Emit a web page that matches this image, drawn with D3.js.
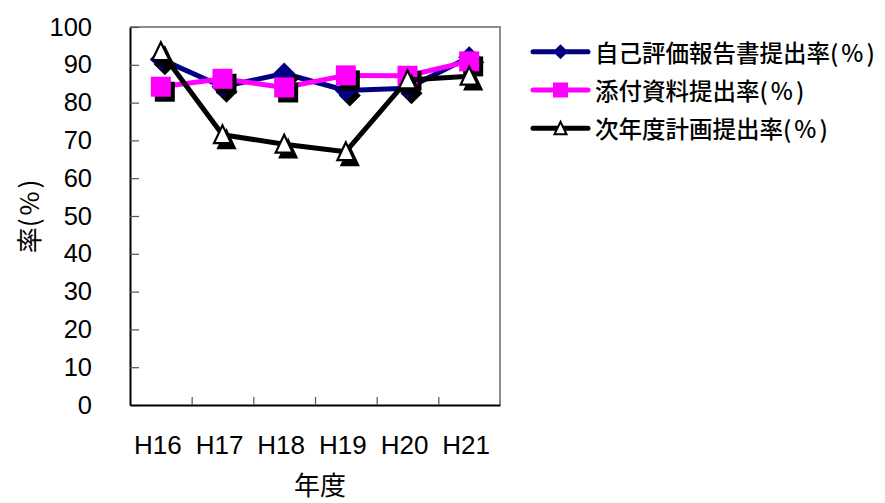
<!DOCTYPE html>
<html lang="ja">
<head>
<meta charset="utf-8">
<script src="https://cdn.jsdelivr.net/npm/d3@7"></script>
<style>
  html, body { margin: 0; padding: 0; background: #fff; }
  svg { display: block; }
  .tick text { fill: #000; }
</style>
</head>
<body>
<svg id="chart" width="885" height="503"></svg>
<script>
// Submission rates by fiscal year (Heisei era)
const years = ["H16", "H17", "H18", "H19", "H20", "H21"];
const selfEvalRate = [91.5, 84.2, 87.7, 83.2, 83.8, 92.0];   // 自己評価報告書提出率
const attachmentRate = [84.2, 86.3, 84.0, 87.2, 87.1, 90.9];  // 添付資料提出率
const nextPlanRate = [93.5, 71.5, 69.0, 67.0, 86.0, 87.0];   // 次年度計画提出率
const seriesNames = ["自己評価報告書提出率", "添付資料提出率", "次年度計画提出率"];
const yTicks = [0, 10, 20, 30, 40, 50, 60, 70, 80, 90, 100];

const series = [
  { name: seriesNames[0], values: selfEvalRate, color: "#000080", marker: "diamond" },
  { name: seriesNames[1], values: attachmentRate, color: "#ff00ff", marker: "square" },
  { name: seriesNames[2], values: nextPlanRate, color: "#000000", marker: "triangle" }
];

const svg = d3.select("#chart");
const plot = { left: 130, right: 500, top: 27, bottom: 405 };
const latinFont = "'Liberation Sans', Arial, sans-serif";
const cjkFont = "'Noto Sans CJK JP', sans-serif";

const x = d3.scaleBand().domain(years).range([plot.left, plot.right]).padding(0);
const xEdge = d3.scaleLinear().domain([0, years.length]).range([plot.left, plot.right]);
const y = d3.scaleLinear().domain([0, 100]).range([plot.bottom, plot.top]);
const cx = d => x(d) + x.bandwidth() / 2;

// plot frame: grey top/right edges
svg.append("path")
  .attr("d", `M${plot.left},${plot.top}H${plot.right}V${plot.bottom}`)
  .attr("fill", "none").attr("stroke", "#8c8c8c").attr("stroke-width", 2);

// y axis, ticks pointing into the plot
const yAxis = svg.append("g")
  .attr("transform", `translate(${plot.left},0)`)
  .call(d3.axisLeft(y).tickValues(yTicks).tickSizeInner(-9).tickSizeOuter(0).tickPadding(38));
yAxis.select(".domain").attr("stroke", "#000").attr("stroke-width", 2);
yAxis.selectAll(".tick line").attr("stroke", "#555").attr("stroke-width", 1.2);
yAxis.selectAll(".tick text").attr("font-family", latinFont).attr("font-size", 25.5);

// x axis: category boundary ticks
const xTicksAxis = svg.append("g")
  .attr("transform", `translate(0,${plot.bottom})`)
  .call(d3.axisBottom(xEdge).tickValues(d3.range(1, years.length)).tickSizeInner(-8).tickSizeOuter(0).tickFormat(""));
xTicksAxis.select(".domain").attr("stroke", "#000").attr("stroke-width", 2);
xTicksAxis.selectAll(".tick line").attr("stroke", "#555").attr("stroke-width", 1.2);

// x axis: category labels
const xLabels = svg.append("g")
  .attr("transform", `translate(0,${plot.bottom})`)
  .call(d3.axisBottom(x).tickSize(0).tickPadding(31));
xLabels.select(".domain").remove();
xLabels.selectAll(".tick text").attr("font-family", latinFont).attr("font-size", 26).attr("dx", -3);

// axis titles
svg.append("text")
  .attr("x", 320).attr("y", 495)
  .attr("text-anchor", "middle")
  .attr("font-family", cjkFont).attr("font-size", 26)
  .text("年度");

const yTitle = svg.append("text")
  .attr("transform", "translate(27,215) rotate(-90)")
  .attr("text-anchor", "middle")
  .attr("dominant-baseline", "central")
  .attr("font-family", cjkFont).attr("font-size", 26);
yTitle.append("tspan").text("率");
yTitle.append("tspan").attr("letter-spacing", 3).text("(%)");

// marker shapes
function markerPath(type, s) {
  if (type === "diamond") return `M0,${-s}L${s},0L0,${s}L${-s},0Z`;
  if (type === "square") return `M${-s},${-s}H${s}V${s}H${-s}Z`;
  const h = s * 1.1;
  return `M0,${-h}L${s},${h * 0.9}L${-s},${h * 0.9}Z`;
}
const markerSize = { diamond: 11, square: 10, triangle: 8.5 };
const shadow = { dx: 4, dy: 5 };

const line = d3.line().x((d, i) => cx(years[i])).y(d => y(d));

series.forEach(s => {
  const g = svg.append("g");
  g.append("path")
    .attr("d", line(s.values))
    .attr("fill", "none")
    .attr("stroke", s.color)
    .attr("stroke-width", 5)
    .attr("stroke-linejoin", "round");

  // marker drop shadows
  g.selectAll(".shadow").data(s.values).join("path")
    .attr("class", "shadow")
    .attr("transform", (d, i) => `translate(${cx(years[i]) + shadow.dx},${y(d) + shadow.dy})`)
    .attr("d", markerPath(s.marker, markerSize[s.marker]))
    .attr("fill", "#000")
    .attr("stroke", s.marker === "triangle" ? "#000" : "none")
    .attr("stroke-width", 2);

  g.selectAll(".marker").data(s.values).join("path")
    .attr("class", "marker")
    .attr("transform", (d, i) => `translate(${cx(years[i])},${y(d)})`)
    .attr("d", markerPath(s.marker, markerSize[s.marker]))
    .attr("fill", s.marker === "triangle" ? "#fff" : s.color)
    .attr("stroke", s.marker === "triangle" ? "#000" : "none")
    .attr("stroke-width", 2.2)
    .attr("stroke-linejoin", "miter");
});

// legend
const legendRows = [51.7, 90, 128.3];
const legendMarkerSize = { diamond: 7.5, square: 7.5, triangle: 6 };
const legend = svg.append("g");
series.forEach((s, i) => {
  const row = legend.append("g").attr("transform", `translate(0,${legendRows[i]})`);
  row.append("line")
    .attr("x1", 533).attr("x2", 588)
    .attr("stroke", s.color).attr("stroke-width", 5).attr("stroke-linecap", "round");
  row.append("path")
    .attr("transform", "translate(560.5,0)")
    .attr("d", markerPath(s.marker, legendMarkerSize[s.marker]))
    .attr("fill", s.marker === "triangle" ? "#fff" : s.color)
    .attr("stroke", s.marker === "triangle" ? "#000" : "none")
    .attr("stroke-width", 2);
  const t = row.append("text")
    .attr("x", 595).attr("y", 0)
    .attr("dominant-baseline", "central")
    .attr("font-family", cjkFont).attr("font-size", 23.5).attr("font-weight", 500);
  t.append("tspan").text(s.name);
  t.append("tspan").attr("letter-spacing", 3).text("(%)");
});
</script>
</body>
</html>
